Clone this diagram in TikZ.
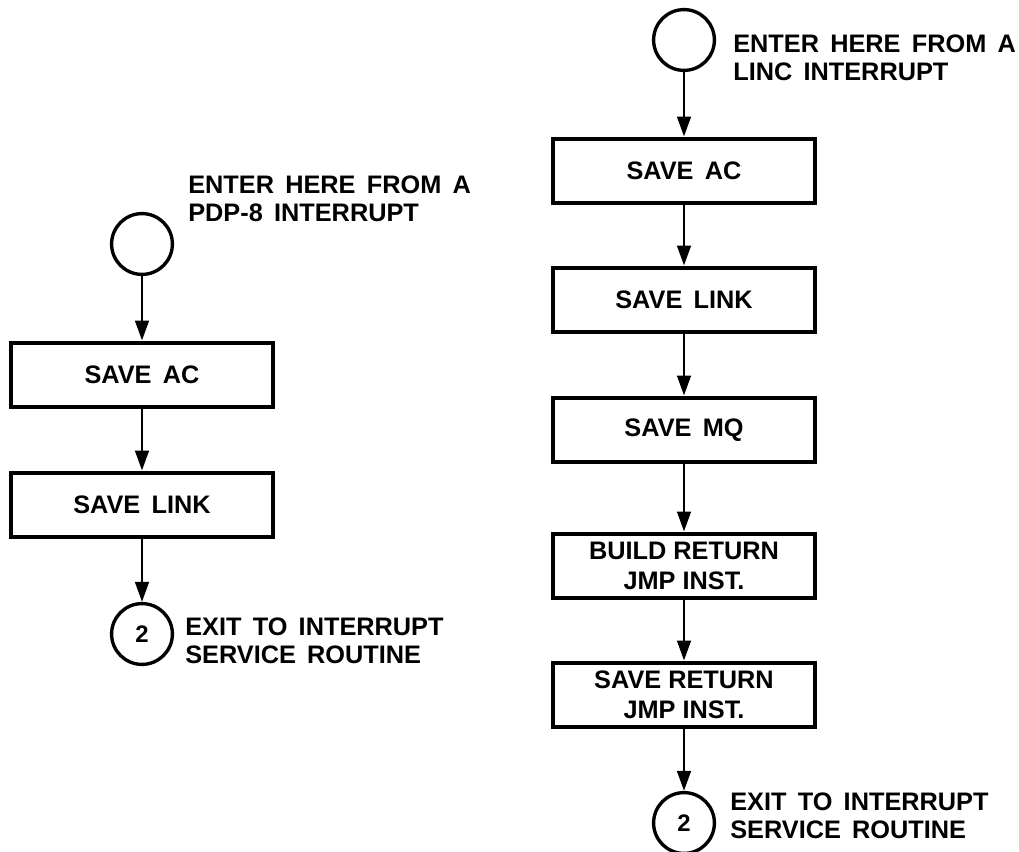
\documentclass[tikz,border=0pt]{standalone}
\usepackage{fontspec}
\setmainfont{Liberation Sans}
\usetikzlibrary{arrows.meta,positioning}
\begin{document}
\begin{tikzpicture}[x=0.025cm,y=-0.025cm,line cap=butt,line join=miter,
  stepbox/.style={draw,line width=2.9pt,minimum width=6.55cm,minimum height=1.62cm,
    inner sep=0pt,align=center,font=\bfseries\fontsize{18}{21}\selectfont},
  connector/.style={draw,line width=2.4pt,minimum size=1.52cm,circle,inner sep=0pt,
    font=\bfseries\fontsize{17}{20}\selectfont},
  note/.style={anchor=west,align=left,inner sep=0pt,font=\bfseries\fontsize{18}{20}\selectfont},
  flow/.style={line width=2pt,-{Triangle[length=0.5cm,width=0.34cm]}}]
  \useasboundingbox (0,0) rectangle (1019,852);
  % colonne de gauche : interruption PDP-8
  \node[connector] (pEnter) at (142,244) {};
  \node[stepbox] (pAC) at (142,375) {SAVE\, AC};
  \node[stepbox] (pLink) at (142,505) {SAVE\, LINK};
  \node[connector] (pExit) at (142,634) {2};
  \node[note] (pEnterTxt) at (188,199) {ENTER\, HERE\, FROM\, A\\PDP-8\, INTERRUPT};
  \node[note] (pExitTxt) at (185,641) {EXIT\, TO\, INTERRUPT\\SERVICE\, ROUTINE};
  \draw[flow] (pEnter) -- (pAC);
  \draw[flow] (pAC) -- (pLink);
  \draw[flow] (pLink) -- (pExit);
  % colonne de droite : interruption LINC
  \node[connector] (lEnter) at (684,40) {};
  \node[stepbox] (lAC) at (684,171) {SAVE\, AC};
  \node[stepbox] (lLink) at (684,300) {SAVE\, LINK};
  \node[stepbox] (lMQ) at (684,430) {SAVE\, MQ};
  \node[stepbox] (lBuild) at (684,566) {BUILD RETURN\\JMP INST.};
  \node[stepbox] (lSave) at (684,695) {SAVE RETURN\\JMP INST.};
  \node[connector] (lExit) at (684,823) {2};
  \node[note] (lEnterTxt) at (733,58) {ENTER\, HERE\, FROM\, A\\LINC\, INTERRUPT};
  \node[note] (lExitTxt) at (730,816) {EXIT\, TO\, INTERRUPT\\SERVICE\, ROUTINE};
  \draw[flow] (lEnter) -- (lAC);
  \draw[flow] (lAC) -- (lLink);
  \draw[flow] (lLink) -- (lMQ);
  \draw[flow] (lMQ) -- (lBuild);
  \draw[flow] (lBuild) -- (lSave);
  \draw[flow] (lSave) -- (lExit);
\end{tikzpicture}
\end{document}
